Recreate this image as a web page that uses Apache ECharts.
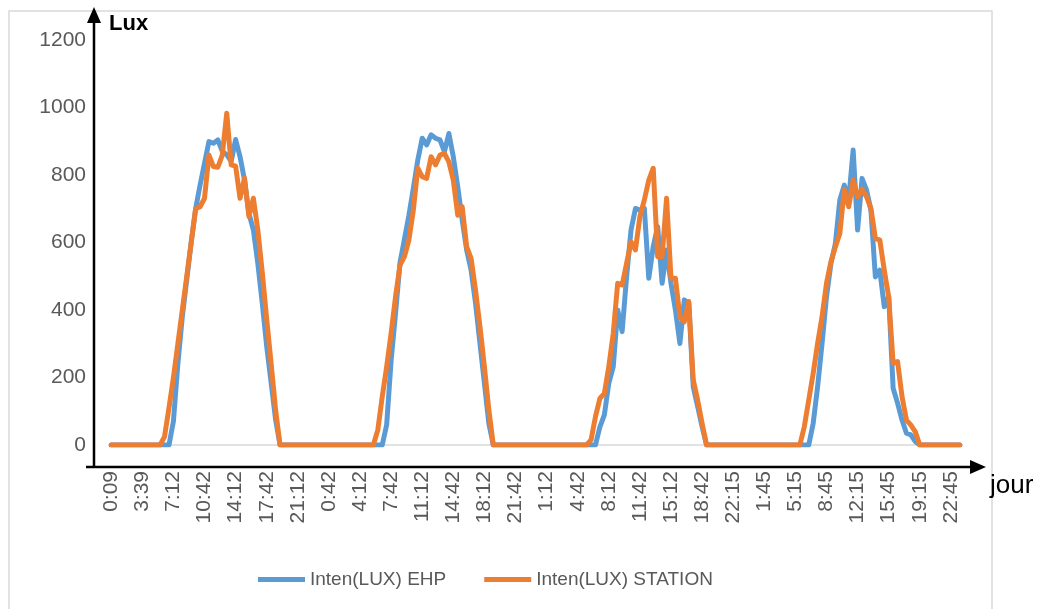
<!DOCTYPE html>
<html>
<head>
<meta charset="utf-8">
<script src="https://cdn.jsdelivr.net/npm/echarts@6/dist/echarts.min.js"></script>
<style>
  html, body { margin: 0; padding: 0; background: #fff; }
  #chart { width: 1043px; height: 609px; }
</style>
</head>
<body>
<div id="chart"></div>
<script>
// Tick labels (every 7th half-hour sample)
const tickLabels = ['0:09','3:39','7:12','10:42','14:12','17:42','21:12','0:42','4:12','7:42','11:12','14:42','18:12','21:42','1:12','4:42','8:12','11:42','15:12','18:42','22:15','1:45','5:15','8:45','12:15','15:45','19:15','22:45'];

// Inten(LUX) EHP, one array per day (48 half-hour samples)
const ehpDay1 = [0,0,0,0,0,0,0,0,0,0,0,0,0,0,70,240,380,490,600,700,770,835,899,894,904,870,860,840,905,854,785,686,637,538,420,292,184,75,0,0,0,0,0,0,0,0,0,0];
const ehpDay2 = [0,0,0,0,0,0,0,0,0,0,0,0,0,0,60,250,390,540,610,680,760,844,909,889,919,909,904,869,923,854,765,667,578,519,420,301,183,64,0,0,0,0,0,0,0,0,0,0];
const ehpDay3 = [0,0,0,0,0,0,0,0,0,0,0,0,0,0,54,89,183,232,400,336,498,637,701,696,701,494,588,647,479,578,479,400,301,430,420,173,114,54,0,0,0,0,0,0,0,0,0,0];
const ehpDay4 = [0,0,0,0,0,0,0,0,0,0,0,0,0,0,64,173,301,439,538,597,726,770,726,874,637,790,756,696,498,518,410,440,168,124,74,35,30,10,0,0,0,0,0,0,0,0,0,0];

// Inten(LUX) STATION, one array per day
const stationDay1 = [0,0,0,0,0,0,0,0,0,0,0,0,25,110,200,300,400,500,600,700,706,731,859,825,823,859,983,830,826,731,791,677,731,637,511,373,240,104,0,0,0,0,0,0,0,0,0,0];
const stationDay2 = [0,0,0,0,0,0,0,0,0,0,0,0,44,143,232,331,440,533,558,607,696,820,795,790,854,830,859,864,839,785,681,706,588,553,459,351,232,104,0,0,0,0,0,0,0,0,0,0];
const stationDay3 = [0,0,0,0,0,0,0,0,0,0,0,0,15,84,138,153,232,331,479,474,538,602,578,677,726,785,820,558,558,731,494,494,380,365,425,193,133,64,0,0,0,0,0,0,0,0,0,0];
const stationDay4 = [0,0,0,0,0,0,0,0,0,0,0,0,54,133,212,301,380,479,543,587,627,756,706,785,736,758,736,701,612,607,518,439,242,247,143,74,59,39,0,0,0,0,0,0,0,0,0,0];

const ehp = [].concat(ehpDay1, ehpDay2, ehpDay3, ehpDay4);
const station = [].concat(stationDay1, stationDay2, stationDay3, stationDay4);

// Category labels: each tick label followed by its half-hour steps
const categories = [];
tickLabels.forEach(function (lab) {
  const p = lab.split(':');
  const base = parseInt(p[0], 10) * 60 + parseInt(p[1], 10);
  for (let s = 0; s < 7; s++) {
    const t = (base + 30 * s) % 1440;
    const h = Math.floor(t / 60), m = t % 60;
    categories.push(h + ':' + (m < 10 ? '0' : '') + m);
  }
});
categories.length = ehp.length;

const FONT = 'Liberation Sans';
const GRAY = '#595959';

const chart = echarts.init(document.getElementById('chart'), null, { renderer: 'canvas' });
chart.setOption({
  animation: false,
  backgroundColor: '#ffffff',
  textStyle: { fontFamily: FONT },
  grid: { left: 109, right: 81, top: 40, bottom: 164, containLabel: false },
  legend: {
    left: 253, top: 565,
    icon: 'rect', itemWidth: 47, itemHeight: 5, itemGap: 38,
    textStyle: { color: GRAY, fontSize: 19, fontFamily: FONT },
    data: ['Inten(LUX) EHP', 'Inten(LUX) STATION']
  },
  xAxis: {
    type: 'category',
    data: categories,
    boundaryGap: true,
    name: 'jour',
    nameLocation: 'end',
    nameGap: 28,
    nameTextStyle: { color: '#000', fontSize: 26, fontFamily: FONT, align: 'left', verticalAlign: 'top', padding: [28, 0, 0, 0] },
    axisLine: { show: true, lineStyle: { color: '#d9d9d9', width: 1.5 } },
    axisTick: { show: false },
    splitLine: { show: false },
    axisLabel: { interval: 6, rotate: 90, margin: 26, color: GRAY, fontSize: 21, fontFamily: FONT }
  },
  yAxis: {
    type: 'value',
    min: 0, max: 1200, interval: 200,
    name: 'Lux',
    nameLocation: 'end',
    nameGap: 16,
    nameTextStyle: { color: '#000', fontSize: 22, fontWeight: 'bold', fontFamily: FONT, align: 'left', verticalAlign: 'middle' },
    axisLine: { show: false },
    axisTick: { show: false },
    splitLine: { show: false },
    axisLabel: { margin: 23, color: GRAY, fontSize: 21, fontFamily: FONT, formatter: function (v) { return String(v); } }
  },
  series: [
    {
      name: 'Inten(LUX) EHP', type: 'line', data: ehp,
      showSymbol: false, symbol: 'none',
      lineStyle: { color: '#5B9BD5', width: 5, cap: 'round', join: 'round' },
      itemStyle: { color: '#5B9BD5' }
    },
    {
      name: 'Inten(LUX) STATION', type: 'line', data: station,
      showSymbol: false, symbol: 'none',
      lineStyle: { color: '#ED7D31', width: 5, cap: 'round', join: 'round' },
      itemStyle: { color: '#ED7D31' }
    }
  ],
  graphic: [
    { type: 'rect', z: -1, shape: { x: 9, y: 11, width: 983, height: 620 }, style: { fill: null, stroke: '#d9d9d9', lineWidth: 1.5 } },
    { type: 'line', shape: { x1: 94, y1: 468, x2: 94, y2: 20 }, style: { stroke: '#000', lineWidth: 2.5 } },
    { type: 'polygon', shape: { points: [[94, 7], [87, 23], [101, 23]] }, style: { fill: '#000' } },
    { type: 'line', shape: { x1: 86, y1: 467, x2: 972, y2: 467 }, style: { stroke: '#000', lineWidth: 2.5 } },
    { type: 'polygon', shape: { points: [[986, 467], [970, 460], [970, 474]] }, style: { fill: '#000' } }
  ]
});
</script>
</body>
</html>
